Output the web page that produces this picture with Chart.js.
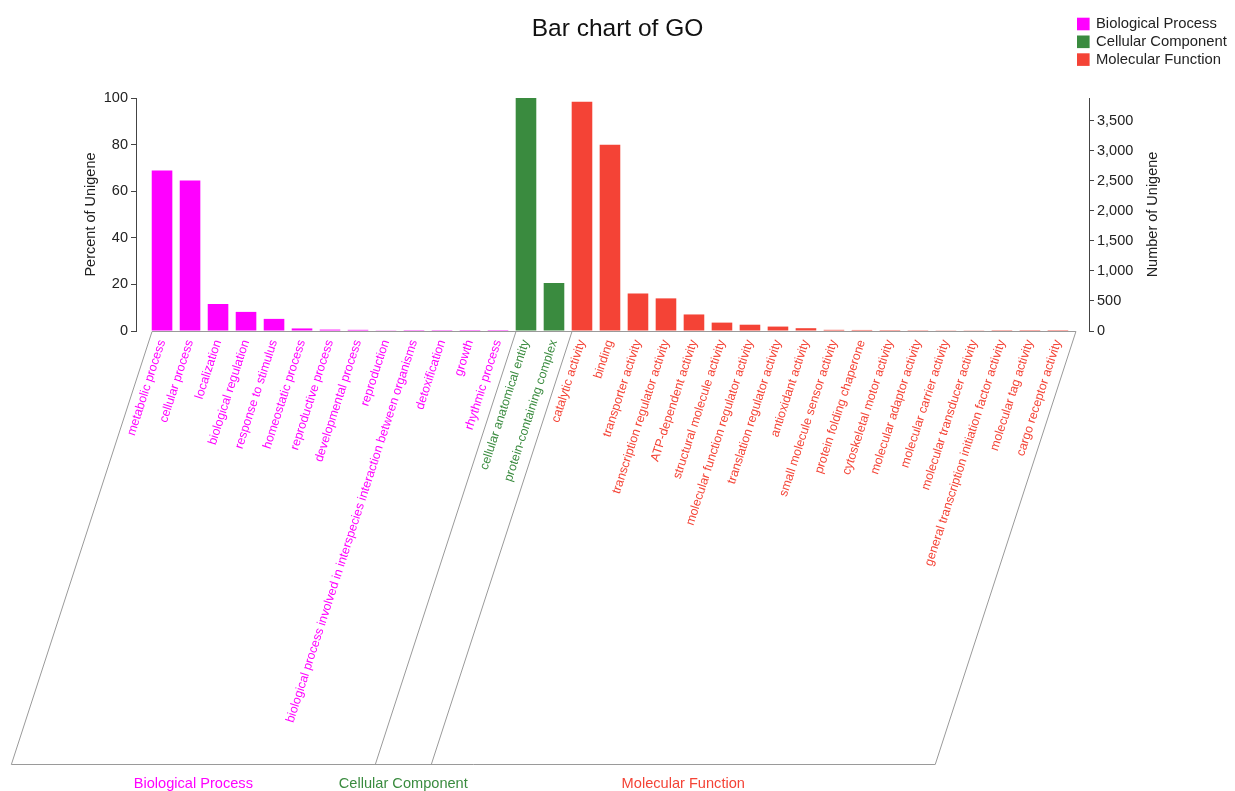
<!DOCTYPE html>
<html>
<head>
<meta charset="utf-8">
<title>Bar chart of GO</title>
<script src="https://cdn.jsdelivr.net/npm/chart.js@4.4.1/dist/chart.umd.min.js"></script>
<style>
  html, body { margin: 0; padding: 0; background: #ffffff; }
  #wrap { width: 1235px; height: 791px; position: relative; }
</style>
</head>
<body>
<div id="wrap"><canvas id="goChart"></canvas></div>
<script>
// GO level-2 terms and the share of annotated unigenes in each (percent)
const bpTerms = [
  'metabolic process', 'cellular process', 'localization', 'biological regulation',
  'response to stimulus', 'homeostatic process', 'reproductive process',
  'developmental process', 'reproduction',
  'biological process involved in interspecies interaction between organisms',
  'detoxification', 'growth', 'rhythmic process'
];
const bpPercent = [68.9, 64.6, 11.6, 8.2, 5.2, 1.1, 0.6, 0.5, 0.3, 0.05, 0.05, 0.03, 0.03];

const ccTerms = ['cellular anatomical entity', 'protein-containing complex'];
const ccPercent = [100, 20.6];

const mfTerms = [
  'catalytic activity', 'binding', 'transporter activity', 'transcription regulator activity',
  'ATP-dependent activity', 'structural molecule activity',
  'molecular function regulator activity', 'translation regulator activity',
  'antioxidant activity', 'small molecule sensor activity', 'protein folding chaperone',
  'cytoskeletal motor activity', 'molecular adaptor activity', 'molecular carrier activity',
  'molecular transducer activity', 'general transcription initiation factor activity',
  'molecular tag activity', 'cargo receptor activity'
];
const mfPercent = [98.4, 79.9, 16.1, 14.0, 7.1, 3.6, 2.7, 1.9, 1.2, 0.5, 0.45, 0.4, 0.35, 0.3, 0.3, 0.05, 0.03, 0.03];

const groupNames = ['Biological Process', 'Cellular Component', 'Molecular Function'];
const groupColors = ['#ff00ff', '#3a8b3f', '#f44336'];

// total annotated unigenes: the right axis spans 0..total so it lines up with 0..100 %
const totalUnigene = 3876;
const percentTicks = [0, 20, 40, 60, 80, 100];
const countTicks = [0, 500, 1000, 1500, 2000, 2500, 3000, 3500];

const allTerms = bpTerms.concat(ccTerms, mfTerms);
const groupStarts = [0, bpTerms.length, bpTerms.length + ccTerms.length, allTerms.length];
const groupOf = i => (i < groupStarts[1] ? 0 : i < groupStarts[2] ? 1 : 2);

const FONT = '"Liberation Sans", Arial, Helvetica, sans-serif';
const LABEL_ANGLE = 72;

Chart.defaults.font.family = FONT;
Chart.defaults.color = '#222';

// frame under the axis: slanted group separators, bottom rule, group names,
// the right axis title (reading upwards) and the legend column
const goFrame = {
  id: 'goFrame',
  afterDraw(chart) {
    const { ctx, chartArea } = chart;
    const x = chart.scales.x;
    const yNum = chart.scales.yNum;
    const top = Math.round(chartArea.bottom) + 0.5;
    const bottom = Math.round(x.bottom) - 0.5;
    const drop = (bottom - top) / Math.tan(LABEL_ANGLE * Math.PI / 180);
    const starts = groupStarts.map(i => x.getPixelForValue(i - 0.5) + 4);

    ctx.save();
    ctx.strokeStyle = '#9a9a9a';
    ctx.lineWidth = 1;
    ctx.beginPath();
    ctx.moveTo(starts[0], top);
    ctx.lineTo(starts[3], top);
    starts.forEach(sx => { ctx.moveTo(sx, top); ctx.lineTo(sx - drop, bottom); });
    ctx.moveTo(starts[0] - drop, bottom);
    ctx.lineTo(starts[3] - drop, bottom);
    ctx.stroke();

    ctx.font = '14.6px ' + FONT;
    ctx.textAlign = 'center';
    ctx.textBaseline = 'middle';
    for (let g = 0; g < 3; g++) {
      ctx.fillStyle = groupColors[g];
      ctx.fillText(groupNames[g], (starts[g] + starts[g + 1]) / 2 - drop, bottom + 19);
    }

    // right axis title
    ctx.save();
    ctx.translate(yNum.left + 64, (chartArea.top + chartArea.bottom) / 2);
    ctx.rotate(-Math.PI / 2);
    ctx.fillStyle = '#222';
    ctx.font = '14.5px ' + FONT;
    ctx.fillText('Number of Unigene', 0, 0);
    ctx.restore();

    // legend
    ctx.textAlign = 'left';
    ctx.font = '14.8px ' + FONT;
    chart.data.datasets.forEach((ds, k) => {
      const cy = 24 + k * 17.8;
      ctx.fillStyle = ds.backgroundColor;
      ctx.fillRect(yNum.left - 12, cy - 6.3, 12.6, 12.6);
      ctx.fillStyle = '#222';
      ctx.fillText(ds.label, yNum.left + 7, cy);
    });
    ctx.restore();
  }
};

const datasets = [bpPercent, ccPercent, mfPercent].map((vals, g) => ({
  label: groupNames[g],
  backgroundColor: groupColors[g],
  data: vals.map((v, i) => ({ x: groupStarts[g] + i, y: v })),
  grouped: false,
  barPercentage: 0.92,
  categoryPercentage: 0.8,
  yAxisID: 'yPct'
}));

new Chart(document.getElementById('goChart'), {
  type: 'bar',
  data: { datasets },
  plugins: [goFrame],
  options: {
    responsive: true,
    maintainAspectRatio: false,
    animation: false,
    devicePixelRatio: 1,
    layout: { padding: { left: 0, right: 0, top: 0, bottom: 26 } },
    plugins: {
      legend: { display: false },
      tooltip: { enabled: false },
      title: {
        display: true,
        text: 'Bar chart of GO',
        color: '#111',
        font: { size: 24.5, weight: 'normal', family: FONT },
        padding: { top: 15, bottom: 53.6 }
      }
    },
    scales: {
      x: {
        type: 'linear',
        offset: false,
        min: -0.5 - 0.43,
        max: allTerms.length - 0.5 + 0.61,
        grid: { display: false, drawTicks: false },
        border: { display: false },
        afterBuildTicks: s => { s.ticks = allTerms.map((_, i) => ({ value: i })); },
        afterFit: s => { s.height = 434; s.paddingLeft = 0; s.paddingRight = 0; },
        ticks: {
          autoSkip: false,
          minRotation: LABEL_ANGLE,
          maxRotation: LABEL_ANGLE,
          padding: 7,
          font: { size: 12.4 },
          color: c => groupColors[groupOf(c.index)],
          callback: v => allTerms[v]
        }
      },
      yPct: {
        type: 'linear',
        position: 'left',
        min: 0,
        max: 100,
        afterBuildTicks: s => { s.ticks = percentTicks.map(v => ({ value: v })); },
        afterFit: s => { s.width = 136; },
        grid: { drawOnChartArea: false, drawTicks: true, tickLength: 5, color: '#444' },
        border: { display: true, color: '#444' },
        ticks: { font: { size: 14.5 }, padding: 3, color: '#222' },
        title: {
          display: true, text: 'Percent of Unigene', font: { size: 14.5 }, color: '#222',
          padding: { top: 82, bottom: 4 }
        }
      },
      yNum: {
        type: 'linear',
        position: 'right',
        min: 0,
        max: totalUnigene,
        afterBuildTicks: s => { s.ticks = countTicks.map(v => ({ value: v })); },
        afterFit: s => { s.width = 146; },
        grid: { drawOnChartArea: false, drawTicks: true, tickLength: 5, color: '#444' },
        border: { display: true, color: '#444' },
        ticks: {
          font: { size: 14.5 }, padding: 3, color: '#222',
          callback: v => v.toLocaleString('en-US')
        },
        title: { display: false }
      }
    }
  }
});
</script>
</body>
</html>
